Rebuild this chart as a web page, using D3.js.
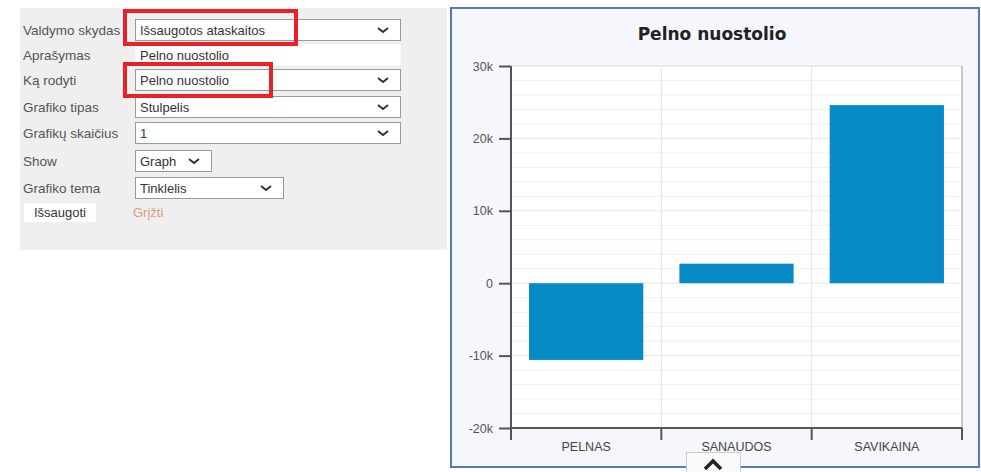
<!DOCTYPE html>
<html>
<head>
<meta charset="utf-8">
<script src="https://cdn.jsdelivr.net/npm/d3@7"></script>
<style>
  body { margin: 0; background: #fff; }
  svg { display: block; }
  .lbl { font-family: Arial, "Liberation Sans", sans-serif; font-size: 13.5px; fill: #555; }
  .val { font-family: Arial, "Liberation Sans", sans-serif; font-size: 13px; fill: #333; }
</style>
</head>
<body>
<div id="vis"></div>
<script>
// chart values
const categories = ['PELNAS', 'SANAUDOS', 'SAVIKAINA'];
const values = [-10600, 2700, 24600];
const yTicks = [-20000, -10000, 0, 10000, 20000, 30000];
const yMinorTicks = d3.range(-20000, 30001, 2000);
const chartTitle = 'Pelno nuostolio';

// settings form rows
const formLabels = ['Valdymo skydas', 'Aprašymas', 'Ką rodyti', 'Grafiko tipas', 'Grafikų skaičius', 'Show', 'Grafiko tema'];
const formValues = ['Išsaugotos ataskaitos', 'Pelno nuostolio', 'Pelno nuostolio', 'Stulpelis', '1', 'Graph', 'Tinklelis'];

const svg = d3.select('#vis').append('svg')
    .attr('width', 981)
    .attr('height', 472);

/* ---------- left form panel ---------- */
let form = svg.append('g');
form.append('rect')
    .attr('x', 20).attr('y', 8).attr('width', 427).attr('height', 242)
    .attr('fill', '#efefef');

const rowY = [30, 55, 80, 107, 133, 161, 188];
const boxW = [265, 265, 265, 265, 265, 76, 148];

formLabels.forEach((l, i) => {
  form.append('text').attr('class', 'lbl')
      .attr('x', 23).attr('y', rowY[i] + 5)
      .text(l);
  let isInput = i === 1;
  form.append('rect')
      .attr('x', 135.5).attr('y', rowY[i] - 10.5)
      .attr('width', boxW[i]).attr('height', 21)
      .attr('fill', '#fff')
      .attr('stroke', isInput ? 'none' : '#999');
  form.append('text').attr('class', 'val')
      .attr('x', 140).attr('y', rowY[i] + 5)
      .text(formValues[i]);
  if (!isInput) {
    let cx = 135 + boxW[i] - 17;
    form.append('path')
        .attr('d', `M${cx - 5},${rowY[i] - 2} L${cx},${rowY[i] + 2} L${cx + 5},${rowY[i] - 2}`)
        .attr('fill', 'none').attr('stroke', '#333').attr('stroke-width', 2);
  }
});

// buttons
form.append('rect').attr('x', 24).attr('y', 203).attr('width', 72).attr('height', 19).attr('fill', '#fff');
form.append('text').attr('class', 'val').attr('x', 60).attr('y', 217)
    .attr('text-anchor', 'middle').text('Išsaugoti');
form.append('text').attr('class', 'val').attr('x', 133).attr('y', 217)
    .style('fill', '#d4a07c').text('Grįžti');

// red highlight boxes
form.append('rect').attr('x', 125).attr('y', 11).attr('width', 171).attr('height', 33)
    .attr('fill', 'none').attr('stroke', '#e8202a').attr('stroke-width', 4);
form.append('rect').attr('x', 125).attr('y', 64).attr('width', 146).attr('height', 32)
    .attr('fill', 'none').attr('stroke', '#e8202a').attr('stroke-width', 4);

/* ---------- chart panel ---------- */
svg.append('rect')
    .attr('x', 451).attr('y', 8).attr('width', 528).attr('height', 459)
    .attr('fill', '#f6f6fd')
    .attr('stroke', '#5577c4').attr('stroke-width', 2);

svg.append('text')
    .attr('x', 712).attr('y', 40)
    .attr('text-anchor', 'middle')
    .style('font-family', '"DejaVu Sans", Verdana, sans-serif')
    .style('font-size', '17px')
    .style('font-weight', 'bold')
    .style('fill', '#222')
    .text(chartTitle);

const plot = { left: 511, right: 962, top: 66, bottom: 428 };

const y = d3.scaleLinear()
    .domain([-20000, 30000])
    .range([plot.bottom, plot.top]);

const x = d3.scaleBand()
    .domain(categories)
    .range([plot.left, plot.right])
    .paddingInner(0.24)
    .paddingOuter(0.12);

const step = x.step();

// plot background
svg.append('rect')
    .attr('x', plot.left).attr('y', plot.top)
    .attr('width', plot.right - plot.left).attr('height', plot.bottom - plot.top)
    .attr('fill', '#fff')
    .attr('stroke', '#ddd');

// horizontal grid
svg.append('g').selectAll('line')
    .data(yMinorTicks)
    .join('line')
    .attr('x1', plot.left).attr('x2', plot.right)
    .attr('y1', d => y(d)).attr('y2', d => y(d))
    .attr('stroke', d => d % 10000 === 0 ? '#e6e6e6' : '#efefef');

// vertical grid at category boundaries
svg.append('g').selectAll('line')
    .data(categories.slice(0, -1))
    .join('line')
    .attr('x1', d => x(d) + x.bandwidth() + step * x.paddingInner() / 2)
    .attr('x2', d => x(d) + x.bandwidth() + step * x.paddingInner() / 2)
    .attr('y1', plot.top).attr('y2', plot.bottom)
    .attr('stroke', '#e2e2e2');
svg.append('line')
    .attr('x1', plot.right).attr('x2', plot.right)
    .attr('y1', plot.top).attr('y2', plot.bottom)
    .attr('stroke', '#c8c8c8').attr('stroke-width', 2);

// bars
svg.append('g').selectAll('rect')
    .data(values)
    .join('rect')
    .attr('x', (d, i) => x(categories[i]))
    .attr('width', x.bandwidth())
    .attr('y', d => y(Math.max(0, d)))
    .attr('height', d => Math.abs(y(d) - y(0)))
    .attr('fill', '#068bc7');

// y axis
const yAxis = svg.append('g')
    .attr('transform', `translate(${plot.left},0)`)
    .call(d3.axisLeft(y)
        .tickValues(yTicks)
        .tickSize(12)
        .tickPadding(6)
        .tickFormat(d => d === 0 ? '0' : (d / 1000) + 'k'));
yAxis.select('.domain').remove();
yAxis.append('line')
    .attr('x1', 0).attr('x2', 0)
    .attr('y1', plot.top).attr('y2', plot.bottom + 12)
    .attr('stroke', '#555').attr('stroke-width', 2);
yAxis.selectAll('.tick line').attr('stroke', '#555').attr('stroke-width', 2);
yAxis.selectAll('.tick text')
    .style('font-family', 'Arial, "Liberation Sans", sans-serif')
    .style('font-size', '12.5px')
    .style('fill', '#555');

// x axis
const xAxis = svg.append('g')
    .attr('transform', `translate(0,${plot.bottom})`)
    .call(d3.axisBottom(x).tickSize(0).tickPadding(14));
xAxis.select('.domain')
    .attr('d', `M${plot.left},0H${plot.right}`)
    .attr('stroke', '#555').attr('stroke-width', 2);
xAxis.selectAll('.tick text')
    .style('font-family', 'Arial, "Liberation Sans", sans-serif')
    .style('font-size', '12.5px')
    .style('fill', '#444');
xAxis.selectAll('.sep')
    .data(d3.range(categories.length + 1))
    .join('line')
    .attr('class', 'sep')
    .attr('x1', i => plot.left + i * step)
    .attr('x2', i => plot.left + i * step)
    .attr('y1', 0).attr('y2', 12)
    .attr('stroke', '#555').attr('stroke-width', 2);

// collapse tab at the bottom
svg.append('rect')
    .attr('x', 686.5).attr('y', 452.5).attr('width', 54).attr('height', 25)
    .attr('fill', '#fafafa').attr('stroke', '#ccc');
svg.append('path')
    .attr('d', 'M705,469 L713,461 L721,469')
    .attr('fill', 'none').attr('stroke', '#222').attr('stroke-width', 3.5);
</script>
</body>
</html>
